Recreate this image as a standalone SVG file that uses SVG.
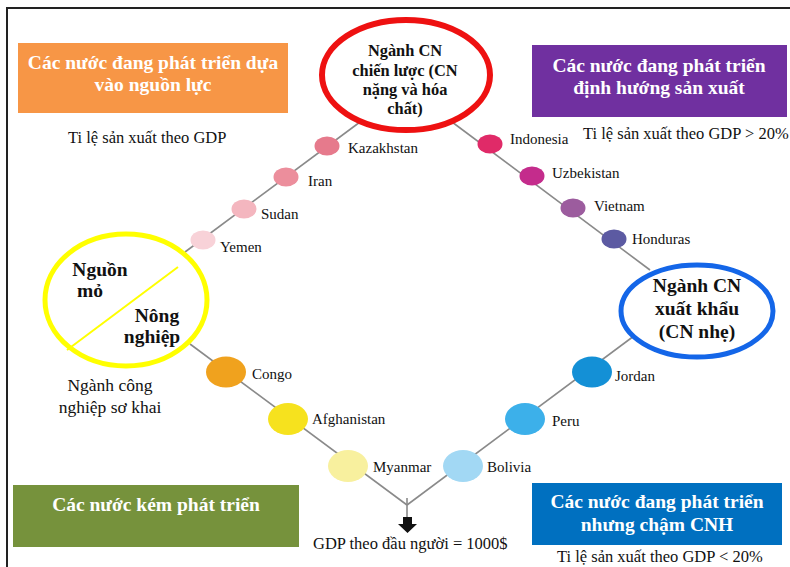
<svg xmlns="http://www.w3.org/2000/svg" width="790" height="567" viewBox="0 0 790 567">
<style>
text{font-family:"Liberation Serif","Times New Roman",serif;fill:#111}
.bt{font-weight:bold;fill:#fff;font-size:19.5px;text-anchor:middle}
.nt{font-weight:bold;font-size:16.4px;text-anchor:middle}
.nb{font-weight:bold;font-size:19.5px;text-anchor:middle}
.lb{font-size:15px}
.sm{font-size:16.5px}
.ln{stroke:#8a8a8a;stroke-width:1.6;fill:none}
</style>
<rect width="790" height="567" fill="#fff"/>
<path d="M7 567V8H790" fill="none" stroke="#222" stroke-width="2"/>

<g id="connectors">
<path class="ln" d="M360 122L185 252"/>
<path class="ln" d="M452 122L650 270"/>
<path class="ln" d="M190 344L407 505"/>
<path class="ln" d="M642 330L407 505"/>
<path class="ln" d="M407 498V517"/>
<path d="M403 517h9v7h5l-9.5 9l-9.5-9h5z" fill="#111"/>
</g>

<g id="box-resource">
<rect x="18" y="43" width="270" height="70" fill="#F79646"/>
<text class="bt" x="153" y="69">Các nước đang phát triển dựa</text>
<text class="bt" x="153" y="91">vào nguồn lực</text>
<text class="sm" x="68" y="143">Ti lệ sản xuất theo GDP</text>
</g>

<g id="box-production">
<rect x="532" y="45" width="255" height="72" fill="#7030A0"/>
<text class="bt" x="659" y="72">Các nước đang phát triển</text>
<text class="bt" x="659" y="94">định hướng sản xuất</text>
<text class="sm" x="583" y="139">Ti lệ sản xuất theo GDP &gt; 20%</text>
</g>

<g id="box-least">
<rect x="13" y="485" width="286" height="62" fill="#76923C"/>
<text class="bt" x="156" y="511">Các nước kém phát triển</text>
</g>

<g id="box-slow">
<rect x="532" y="483" width="250" height="62" fill="#0070C0"/>
<text class="bt" x="657" y="508">Các nước đang phát triển</text>
<text class="bt" x="657" y="531">nhưng chậm CNH</text>
<text class="sm" x="557" y="562">Ti lệ sản xuất theo GDP &lt; 20%</text>
</g>

<g id="node-strategic">
<ellipse cx="406" cy="75" rx="84" ry="55" fill="#fff" stroke="#EE1111" stroke-width="6"/>
<text class="nt" x="405" y="56">Ngành CN</text>
<text class="nt" x="405" y="76">chiến lược (CN</text>
<text class="nt" x="405" y="95">nặng và hóa</text>
<text class="nt" x="405" y="114">chất)</text>
</g>

<g id="node-export">
<ellipse cx="697" cy="311" rx="76" ry="46" fill="#fff" stroke="#1466E8" stroke-width="5"/>
<text class="nb" x="697" y="292">Ngành CN</text>
<text class="nb" x="697" y="315">xuất khẩu</text>
<text class="nb" x="697" y="338">(CN nhẹ)</text>
</g>

<g id="node-primitive">
<ellipse cx="126" cy="300" rx="81" ry="66" fill="#fff" stroke="#FFFF00" stroke-width="5"/>
<path d="M67 350L178 267" stroke="#FFFF00" stroke-width="2"/>
<text class="nb" x="100" y="276">Nguồn</text>
<text class="nb" x="90" y="297">mỏ</text>
<text class="nb" x="157" y="322">Nông</text>
<text class="nb" x="152" y="343">nghiệp</text>
<text x="110" y="391" style="font-size:17.5px;text-anchor:middle">Ngành công</text>
<text x="110" y="413" style="font-size:17.5px;text-anchor:middle">nghiệp sơ khai</text>
</g>

<g id="dots">
<ellipse cx="327" cy="146" rx="12.5" ry="9.5" fill="#E67A8C"/>
<text class="lb" x="348" y="153">Kazakhstan</text>
<ellipse cx="286" cy="177" rx="12.5" ry="9.5" fill="#EC8E9C"/>
<text class="lb" x="308" y="186">Iran</text>
<ellipse cx="244" cy="209" rx="12.5" ry="9.5" fill="#F4B6BF"/>
<text class="lb" x="261" y="219">Sudan</text>
<ellipse cx="203" cy="240" rx="12.5" ry="9.5" fill="#F8D2D8"/>
<text class="lb" x="220" y="252">Yemen</text>

<ellipse cx="490" cy="144" rx="12.5" ry="9.5" fill="#E02A68"/>
<text class="lb" x="510" y="144">Indonesia</text>
<ellipse cx="532" cy="176" rx="12.5" ry="9.5" fill="#C42C8C"/>
<text class="lb" x="552" y="178">Uzbekistan</text>
<ellipse cx="573" cy="208" rx="12.5" ry="9.5" fill="#9C5C9E"/>
<text class="lb" x="594" y="211">Vietnam</text>
<ellipse cx="614" cy="239" rx="12.5" ry="9.5" fill="#5C5AA2"/>
<text class="lb" x="632" y="244">Honduras</text>

<ellipse cx="226" cy="372" rx="20" ry="15.5" fill="#F0A21E"/>
<text class="lb" x="252" y="379">Congo</text>
<ellipse cx="288" cy="419" rx="20" ry="16" fill="#F6E21E"/>
<text class="lb" x="312" y="424">Afghanistan</text>
<ellipse cx="348" cy="466" rx="20" ry="16" fill="#F8F09E"/>
<text class="lb" x="373" y="472">Myanmar</text>

<ellipse cx="592" cy="372" rx="20" ry="15.5" fill="#1490D6"/>
<text class="lb" x="615" y="381">Jordan</text>
<ellipse cx="525" cy="419" rx="20" ry="16" fill="#3CB0EA"/>
<text class="lb" x="552" y="426">Peru</text>
<ellipse cx="463" cy="466" rx="20" ry="16" fill="#A2D8F4"/>
<text class="lb" x="487" y="472">Bolivia</text>
</g>

<text class="sm" x="313" y="549">GDP theo đầu người = 1000$</text>
</svg>
